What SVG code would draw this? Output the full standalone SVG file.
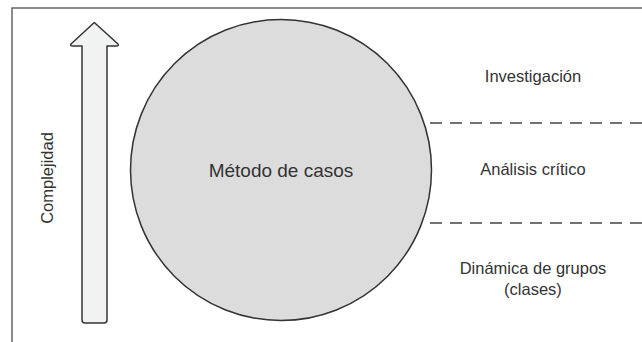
<svg xmlns="http://www.w3.org/2000/svg" width="642" height="342" viewBox="0 0 642 342">
<style>
text{font-family:"Liberation Sans",Arial,sans-serif;fill:#333;}
.lbl{font-size:16.5px;text-anchor:middle;}
.dash{stroke:#444;stroke-width:1.3;stroke-dasharray:12 8;fill:none;}
</style>
<rect width="642" height="342" fill="#fff"/>
<path d="M12,342 L12,8 L642,8" fill="none" stroke="#666" stroke-width="1.5"/>
<g id="arrow">
<path d="M94.3,22.5 L71,44 Q70,46 72.5,46 L82,46 L82,320 Q82,323 85,323 L104,323 Q107,323 107,320 L107,46 L116.5,46 Q119,46 118,44 Z" fill="#f1f2f2" stroke="#333" stroke-width="1.5" stroke-linejoin="round"/>
</g>
<g id="complejidad">
<text class="lbl" transform="translate(53,178) rotate(-90)">Complejidad</text>
</g>
<g id="circle">
<circle cx="281" cy="170" r="150.5" fill="#dcdcdd" stroke="#333" stroke-width="1.5"/>
<text x="281" y="177" style="font-size:19px;text-anchor:middle;">Método de casos</text>
</g>
<g id="connectors">
<line class="dash" x1="430" y1="123" x2="642" y2="123"/>
<line class="dash" x1="430" y1="223" x2="642" y2="223"/>
</g>
<g id="investigacion"><text class="lbl" x="533" y="82">Investigación</text></g>
<g id="analisis"><text class="lbl" x="533" y="175">Análisis crítico</text></g>
<g id="dinamica"><text class="lbl" x="533" y="274">Dinámica de grupos</text><text class="lbl" x="533" y="295">(clases)</text></g>
</svg>
